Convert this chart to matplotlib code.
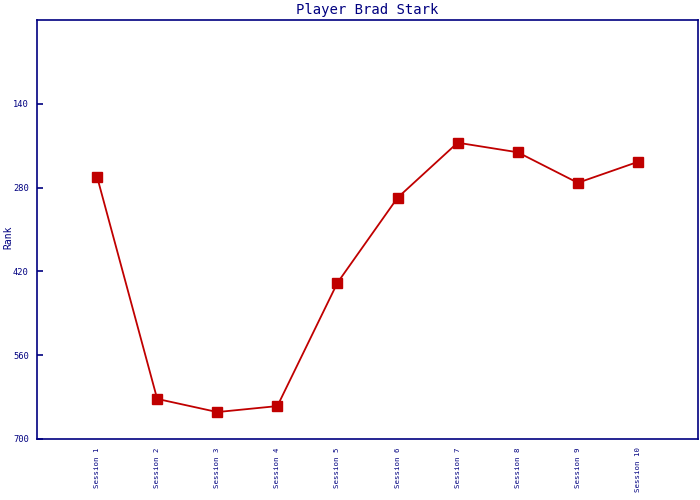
import matplotlib
matplotlib.use('Agg')
import matplotlib.pyplot as plt
import numpy as np

sessions = ['Session 1', 'Session 2', 'Session 3', 'Session 4', 'Session 5',
            'Session 6', 'Session 7', 'Session 8', 'Session 9', 'Session 10']
rank = [262, 633, 655, 645, 439, 297, 205, 221, 272, 237]

navy = '#000080'
red = '#C00000'
plt.rcParams['font.family'] = ['DejaVu Sans Mono']

fig = plt.figure(figsize=(7, 5), dpi=100)
ax = fig.add_axes([37/700, 61/500, 661/700, 419/500])

x = np.arange(1, len(rank) + 1)
ax.plot(x, rank, color=red, lw=1.3, marker='s', ms=6.8, mec=red, mfc=red)

ax.set_xlim(0, 11)
ax.set_ylim(700, 0)
ax.set_yticks([140, 280, 420, 560, 700])
ax.set_xticks(x)
ax.set_xticklabels(sessions, rotation=90, fontsize=5.3, color=navy)
ax.tick_params(axis='x', length=0, pad=6)
ax.tick_params(axis='y', direction='in', length=4, color=navy, labelcolor=navy,
               labelsize=6.3, width=1.2, pad=6)
for s in ax.spines.values():
    s.set_color(navy)
    s.set_linewidth(1.2)

ax.set_title('Player Brad Stark', color=navy, fontsize=10, pad=4)
fig.text(8/700, 1 - 237/500, 'Rank', color=navy, fontsize=7,
         rotation=90, ha='center', va='center')

plt.savefig('out.png', dpi=100)
